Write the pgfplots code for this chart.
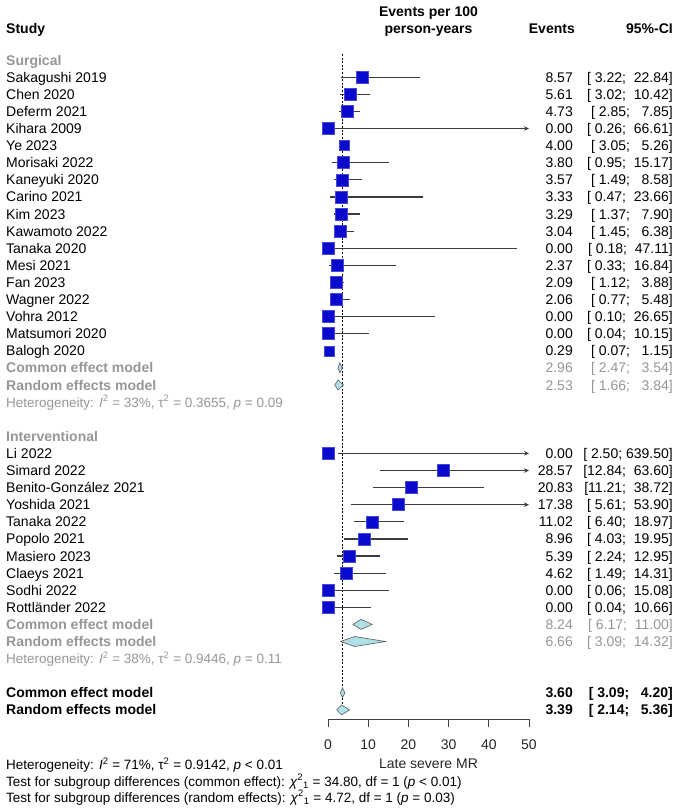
\documentclass[border=0pt]{standalone}
\usepackage{fontspec}
\setmainfont{Liberation Sans}
\usepackage{pgfplots}
\pgfplotsset{compat=1.18}
\usetikzlibrary{arrows.meta}
\definecolor{sqblue}{RGB}{10,10,205}
\definecolor{dfill}{RGB}{176,224,230}
\definecolor{dline}{RGB}{90,90,90}
\definecolor{cil}{RGB}{60,60,60}
\definecolor{gtxt}{RGB}{150,150,150}
\newcommand\fs{\fontsize{14}{16}\selectfont}
\newcommand\fh{\fontsize{13.5}{16}\selectfont}
\newcommand\lt[3][]{\node[anchor=base west,inner sep=0,font=\fs,#1] at (6,{-#2-5}) {#3};}
\newcommand\es[3][]{\node[anchor=base east,inner sep=0,font=\fs,#1] at (573,{-#2-5}) {#3};}
\newcommand\ct[3][]{\node[anchor=base east,inner sep=0,font=\fs,#1] at (673,{-#2-5}) {#3};}
\newcommand\ci[3]{\addplot[cil, line width=1.2pt, forget plot] coordinates {(#1,#3) (#2,#3)};}
\newcommand\cw[3]{\addplot[white, line width=1.2pt, forget plot] coordinates {(#1,#3) (#2,#3)};}
\newcommand\ca[3]{\addplot[cil, line width=1.2pt, forget plot, -{Stealth[length=5pt,width=4.5pt]}] coordinates {(#1,#3) (#2,#3)};}
\newcommand\dm[4]{\addplot[fill=dfill, draw=dline, line width=0.6pt, forget plot] coordinates {(#2,#4) (#1,{#4+5}) (#3,#4) (#1,{#4-5}) (#2,#4)};}
\newcommand\sq{\textsuperscript{2}}
\newcommand\chisq{\textit{χ}\textsuperscript{2}\textsubscript{1}}
\begin{document}
\begin{tikzpicture}[x=1pt,y=1pt]
\path[use as bounding box] (0,0) rectangle (680,-809);
\begin{axis}[at={(328pt,-719pt)}, anchor=south west, scale only axis,
  width=201pt, height=669pt, xmin=0, xmax=50, ymin=-719, ymax=-50,
  axis x line=bottom, axis y line=none, clip=false,
  axis line style={-, line width=1pt, black!75},
  xtick={0,10,20,30,40,50}, tick align=outside, major tick length=8pt,
  tick style={line width=1pt, black!75},
  xticklabel style={font=\fs, text=black!85, yshift=-9pt},
  /pgf/number format/assume math mode=true]
% reference line (common effect estimate)
\addplot[black, line width=0.8pt, dash pattern=on 2pt off 1.6pt, forget plot] coordinates {(3.60,-54) (3.60,-704)};
% squares
\addplot[only marks, mark=square*, mark size=6pt, mark options={fill=sqblue, draw=sqblue!75!white, line width=0.5pt}] coordinates {
(8.57,-77.2) (5.61,-94.3) (4.73,-111.4) (0.00,-128.5) (3.80,-162.7) (3.57,-179.8)
(3.33,-196.9) (3.29,-214.0) (3.04,-231.1) (0.00,-248.2) (2.37,-265.3) (2.09,-282.4)
(2.06,-299.5) (0.00,-316.6) (0.00,-333.7)
(0.00,-453.4) (28.57,-470.5) (20.83,-487.6) (17.38,-504.7) (11.02,-521.8) (8.96,-538.9)
(5.39,-556.0) (4.62,-573.1) (0.00,-590.2) (0.00,-607.3)};
\addplot[only marks, mark=square*, mark size=5pt, mark options={fill=sqblue, draw=sqblue!75!white, line width=0.5pt}] coordinates {
(4.00,-145.6) (0.29,-350.8)};
% confidence intervals
\ci{3.22}{22.84}{-77.2}
\ci{3.02}{10.42}{-94.3}
\ci{2.85}{7.85}{-111.4}
\ca{0.26}{50}{-128.5}
\cw{3.05}{5.26}{-145.6}
\ci{0.95}{15.17}{-162.7}
\ci{1.49}{8.58}{-179.8}
\ci{0.47}{23.66}{-196.9}
\ci{1.37}{7.90}{-214.0}
\ci{1.45}{6.38}{-231.1}
\ci{0.18}{47.11}{-248.2}
\ci{0.33}{16.84}{-265.3}
\ci{1.12}{3.88}{-282.4}
\ci{0.77}{5.48}{-299.5}
\ci{0.10}{26.65}{-316.6}
\ci{0.04}{10.15}{-333.7}
\cw{0.07}{1.15}{-350.8}
\ca{2.50}{50}{-453.4}
\ca{12.84}{50}{-470.5}
\ci{11.21}{38.72}{-487.6}
\ca{5.61}{50}{-504.7}
\ci{6.40}{18.97}{-521.8}
\ci{4.03}{19.95}{-538.9}
\ci{2.24}{12.95}{-556.0}
\ci{1.49}{14.31}{-573.1}
\ci{0.06}{15.08}{-590.2}
\ci{0.04}{10.66}{-607.3}
% diamonds: est, lower, upper, y
\dm{2.96}{2.47}{3.54}{-367.9}
\dm{2.53}{1.66}{3.84}{-385.0}
\dm{8.24}{6.17}{11.00}{-624.4}
\dm{6.66}{3.09}{14.32}{-641.5}
\dm{3.60}{3.09}{4.20}{-692.8}
\dm{3.39}{2.14}{5.36}{-709.9}
\end{axis}
% headers
\node[anchor=base west,inner sep=0,font=\fs\bfseries] at (6,-33) {Study};
\node[anchor=base,inner sep=0,font=\fs\bfseries] at (428.5,-16) {Events per 100};
\node[anchor=base,inner sep=0,font=\fs\bfseries] at (428.5,-33) {person-years};
\node[anchor=base east,inner sep=0,font=\fs\bfseries] at (575,-33) {Events};
\node[anchor=base east,inner sep=0,font=\fs\bfseries] at (673,-33) {95\%-CI};
% surgical
\lt[text=gtxt,font=\fs\bfseries]{60.1}{Surgical}
\lt{77.2}{Sakagushi 2019}\es{77.2}{8.57}\ct{77.2}{[~3.22;~~22.84]}
\lt{94.3}{Chen 2020}\es{94.3}{5.61}\ct{94.3}{[~3.02;~~10.42]}
\lt{111.4}{Deferm 2021}\es{111.4}{4.73}\ct{111.4}{[~2.85;~~~7.85]}
\lt{128.5}{Kihara 2009}\es{128.5}{0.00}\ct{128.5}{[~0.26;~~66.61]}
\lt{145.6}{Ye 2023}\es{145.6}{4.00}\ct{145.6}{[~3.05;~~~5.26]}
\lt{162.7}{Morisaki 2022}\es{162.7}{3.80}\ct{162.7}{[~0.95;~~15.17]}
\lt{179.8}{Kaneyuki 2020}\es{179.8}{3.57}\ct{179.8}{[~1.49;~~~8.58]}
\lt{196.9}{Carino 2021}\es{196.9}{3.33}\ct{196.9}{[~0.47;~~23.66]}
\lt{214.0}{Kim 2023}\es{214.0}{3.29}\ct{214.0}{[~1.37;~~~7.90]}
\lt{231.1}{Kawamoto 2022}\es{231.1}{3.04}\ct{231.1}{[~1.45;~~~6.38]}
\lt{248.2}{Tanaka 2020}\es{248.2}{0.00}\ct{248.2}{[~0.18;~~47.11]}
\lt{265.3}{Mesi 2021}\es{265.3}{2.37}\ct{265.3}{[~0.33;~~16.84]}
\lt{282.4}{Fan 2023}\es{282.4}{2.09}\ct{282.4}{[~1.12;~~~3.88]}
\lt{299.5}{Wagner 2022}\es{299.5}{2.06}\ct{299.5}{[~0.77;~~~5.48]}
\lt{316.6}{Vohra 2012}\es{316.6}{0.00}\ct{316.6}{[~0.10;~~26.65]}
\lt{333.7}{Matsumori 2020}\es{333.7}{0.00}\ct{333.7}{[~0.04;~~10.15]}
\lt{350.8}{Balogh 2020}\es{350.8}{0.29}\ct{350.8}{[~0.07;~~~1.15]}
\lt[text=gtxt,font=\fs\bfseries]{367.9}{Common effect model}\es[text=gtxt]{367.9}{2.96}\ct[text=gtxt]{367.9}{[~2.47;~~~3.54]}
\lt[text=gtxt,font=\fs\bfseries]{385.0}{Random effects model}\es[text=gtxt]{385.0}{2.53}\ct[text=gtxt]{385.0}{[~1.66;~~~3.84]}
\lt[text=gtxt,font=\fh]{402.1}{Heterogeneity: \textit{I}\sq{} = 33\%, τ\sq{} = 0.3655, \textit{p} = 0.09}
% interventional
\lt[text=gtxt,font=\fs\bfseries]{436.3}{Interventional}
\lt{453.4}{Li 2022}\es{453.4}{0.00}\ct{453.4}{[~2.50;~639.50]}
\lt{470.5}{Simard 2022}\es{470.5}{28.57}\ct{470.5}{[12.84;~~63.60]}
\lt{487.6}{Benito-González 2021}\es{487.6}{20.83}\ct{487.6}{[11.21;~~38.72]}
\lt{504.7}{Yoshida 2021}\es{504.7}{17.38}\ct{504.7}{[~5.61;~~53.90]}
\lt{521.8}{Tanaka 2022}\es{521.8}{11.02}\ct{521.8}{[~6.40;~~18.97]}
\lt{538.9}{Popolo 2021}\es{538.9}{8.96}\ct{538.9}{[~4.03;~~19.95]}
\lt{556.0}{Masiero 2023}\es{556.0}{5.39}\ct{556.0}{[~2.24;~~12.95]}
\lt{573.1}{Claeys 2021}\es{573.1}{4.62}\ct{573.1}{[~1.49;~~14.31]}
\lt{590.2}{Sodhi 2022}\es{590.2}{0.00}\ct{590.2}{[~0.06;~~15.08]}
\lt{607.3}{Rottländer 2022}\es{607.3}{0.00}\ct{607.3}{[~0.04;~~10.66]}
\lt[text=gtxt,font=\fs\bfseries]{624.4}{Common effect model}\es[text=gtxt]{624.4}{8.24}\ct[text=gtxt]{624.4}{[~6.17;~~11.00]}
\lt[text=gtxt,font=\fs\bfseries]{641.5}{Random effects model}\es[text=gtxt]{641.5}{6.66}\ct[text=gtxt]{641.5}{[~3.09;~~14.32]}
\lt[text=gtxt,font=\fh]{658.6}{Heterogeneity: \textit{I}\sq{} = 38\%, τ\sq{} = 0.9446, \textit{p} = 0.11}
% overall
\lt[font=\fs\bfseries]{692.8}{Common effect model}\es[font=\fs\bfseries]{692.8}{3.60}\ct[font=\fs\bfseries]{692.8}{[~3.09;~~~4.20]}
\lt[font=\fs\bfseries]{709.9}{Random effects model}\es[font=\fs\bfseries]{709.9}{3.39}\ct[font=\fs\bfseries]{709.9}{[~2.14;~~~5.36]}
\node[anchor=base,inner sep=0,font=\fs,text=black!85] at (428.5,-768) {Late severe MR};
\lt[font=\fh]{764.5}{Heterogeneity: \textit{I}\sq{} = 71\%, τ\sq{} = 0.9142, \textit{p} < 0.01}
\lt[font=\fh]{781}{Test for subgroup differences (common effect): \chisq{} = 34.80, df = 1 (\textit{p} < 0.01)}
\lt[font=\fh]{797}{Test for subgroup differences (random effects): \chisq{} = 4.72, df = 1 (\textit{p} = 0.03)}
\end{tikzpicture}
\end{document}
